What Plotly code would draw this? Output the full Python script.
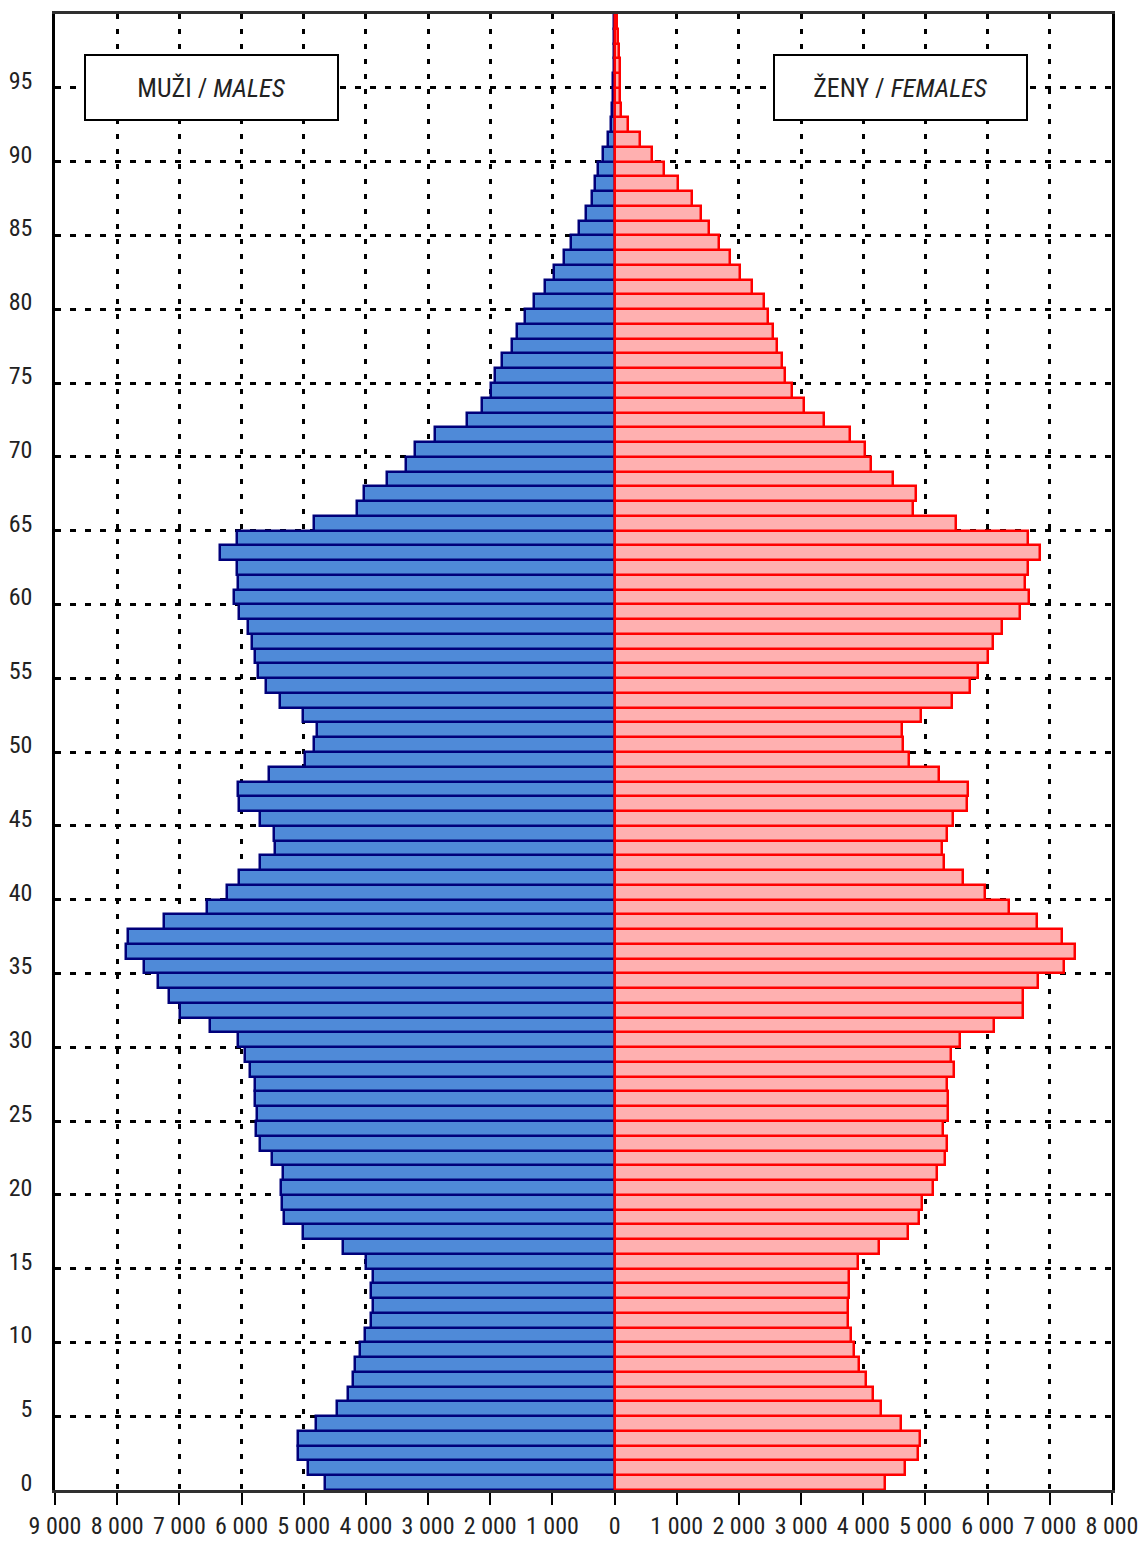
import plotly.graph_objects as go

ages = list(range(100))

males = [4665, 4924, 5097, 5097, 4795, 4470, 4290, 4203, 4175, 4088,
         4009, 3922, 3886, 3915, 3893, 3994, 4369, 5011, 5314, 5357,
         5371, 5328, 5508, 5703, 5775, 5756, 5778, 5778, 5864, 5939,
         6052, 6507, 6985, 7171, 7348, 7563, 7858, 7821, 7247, 6562,
         6229, 6046, 5703, 5456, 5478, 5708, 6035, 6062, 5553, 4979,
         4830, 4786, 5013, 5389, 5607, 5729, 5790, 5834, 5904, 6035,
         6122, 6052, 6079, 6341, 6070, 4830, 4148, 4026, 3659, 3354,
         3214, 2882, 2376, 2131, 1991, 1925, 1817, 1656, 1575, 1441,
         1290, 1118, 968, 817, 694, 575, 457, 360, 312, 269,
         188, 108, 65, 38, 27, 20, 15, 10, 8, 5]

females = [4355, 4665, 4874, 4910, 4600, 4283, 4160, 4037, 3929, 3843,
           3800, 3749, 3749, 3764, 3771, 3922, 4247, 4715, 4895, 4940,
           5120, 5190, 5312, 5350, 5280, 5361, 5361, 5345, 5452, 5415,
           5548, 6095, 6567, 6567, 6808, 7221, 7403, 7200, 6792, 6341,
           5962, 5602, 5296, 5264, 5345, 5441, 5672, 5682, 5211, 4733,
           4646, 4620, 4926, 5432, 5721, 5852, 6009, 6079, 6227, 6524,
           6664, 6603, 6655, 6838, 6655, 5485, 4795, 4847, 4480, 4122,
           4026, 3790, 3362, 3039, 2847, 2737, 2699, 2608, 2554, 2473,
           2403, 2204, 2016, 1860, 1683, 1511, 1387, 1247, 1027, 796,
           602, 403, 215, 108, 91, 86, 80, 65, 54, 43]

x_tick_vals = list(range(-9000, 8001, 1000))
x_tick_text = ["9 000", "8 000", "7 000", "6 000", "5 000", "4 000", "3 000", "2 000", "1 000",
               "0", "1 000", "2 000", "3 000", "4 000", "5 000", "6 000", "7 000", "8 000"]
y_tick_vals = list(range(0, 100, 5))
y_tick_text = [str(v) for v in y_tick_vals]
y_grid_vals = [v - 0.5 for v in range(5, 100, 5)]

label_male = "MUŽI / <i>MALES</i>"
label_female = "ŽENY / <i>FEMALES</i>"

FONT = "Liberation Sans Narrow, Arial Narrow, Roboto Condensed, Roboto, sans-serif"

fig = go.Figure()
fig.add_trace(go.Bar(
    y=ages, x=[-v for v in males], orientation="h", name="Muži",
    marker=dict(color="#4f8ad8", line=dict(color="#00007a", width=2.5)),
    width=1.0,
))
fig.add_trace(go.Bar(
    y=ages, x=females, orientation="h", name="Ženy",
    marker=dict(color="#ffb0b0", line=dict(color="#ff0000", width=2.5)),
    width=1.0,
))

fig.update_layout(
    width=1144, height=1542,
    margin=dict(l=55, r=32, t=14, b=52),
    paper_bgcolor="white", plot_bgcolor="white",
    barmode="overlay", bargap=0,
    showlegend=False,
    font=dict(family=FONT, size=24, color="#222222"),
)

fig.update_xaxes(
    range=[-9000, 8000], automargin=False,
    tickvals=x_tick_vals, ticktext=x_tick_text,
    showgrid=True, gridcolor="black", gridwidth=3, griddash="5px,10px",
    zeroline=False,
    showline=True, linecolor="#303030", linewidth=3, mirror=True,
    ticks="outside", ticklen=12, tickwidth=2, tickcolor="black",
    tickfont=dict(family=FONT, size=24, color="#222222"),
)

fig.update_yaxes(
    range=[-0.5, 99.5], automargin=False,
    tickvals=y_tick_vals, ticktext=y_tick_text,
    showgrid=False, zeroline=False,
    showline=True, linecolor="black", linewidth=2.5, mirror=True,
    ticks="", ticklabelstandoff=15,
    tickfont=dict(family=FONT, size=24, color="#222222"),
    minor=dict(tickvals=y_grid_vals, showgrid=True, gridcolor="black",
               gridwidth=3, griddash="6px,9px", ticks=""),
)

for txt, cx in [(label_male, 211.5), (label_female, 900.5)]:
    fig.add_annotation(
        text=txt, xref="paper", yref="paper",
        x=(cx - 55) / 1057, y=(1490 - 87.5) / 1476,
        xanchor="center", yanchor="middle", showarrow=False,
        width=251, height=63, borderpad=0, borderwidth=2,
        bordercolor="black", bgcolor="white",
        font=dict(family=FONT, size=26, color="#222222"),
    )

fig.write_html("out.html",
               config={"displayModeBar": False},
               post_script="document.body.style.margin='0';document.body.style.overflow='hidden';")
